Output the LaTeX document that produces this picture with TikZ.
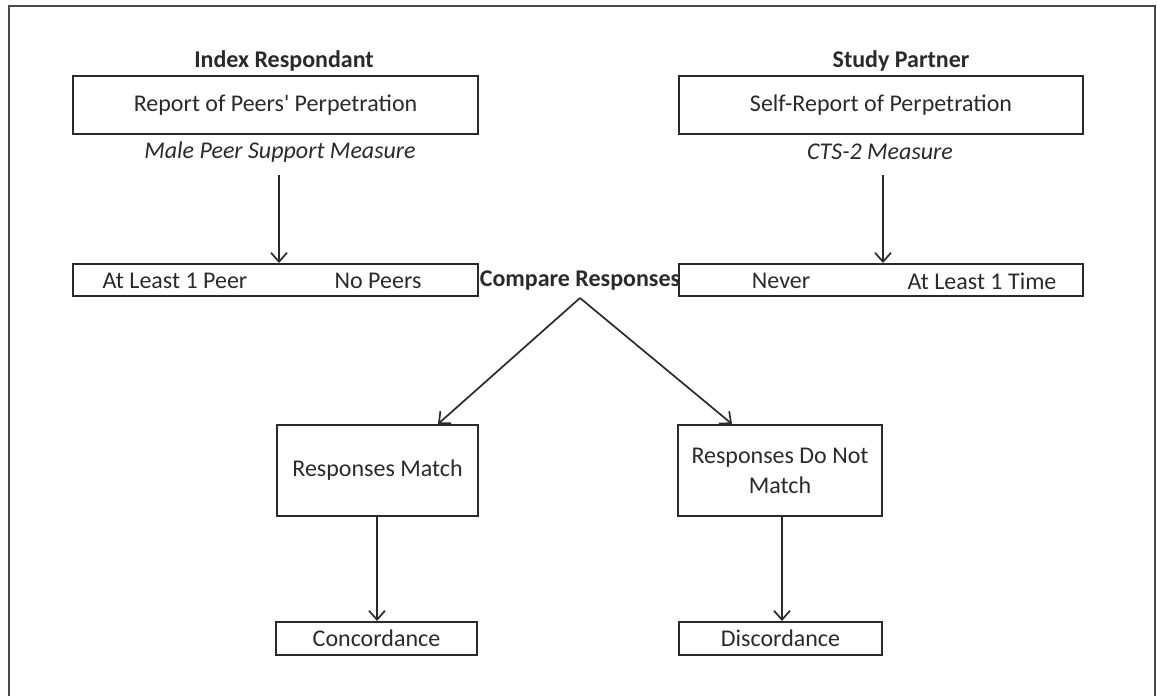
\documentclass[tikz,border=0pt]{standalone}
\usepackage{fontspec}
\setmainfont{Carlito}
\usetikzlibrary{arrows.meta}
\definecolor{ink}{HTML}{2A2A2A}
\begin{document}
\begin{tikzpicture}[x=1pt,y=-1pt,
  every node/.style={text=ink,font=\fontsize{24}{30}\selectfont},
  box/.style={draw=ink,line width=2pt,inner sep=0pt,align=center},
  arr/.style={draw=ink,line width=1.7pt,-{Straight Barb[length=9pt,width=16pt,line width=1.7pt]}},
  hdr/.style={font=\fontsize{24}{30}\selectfont\bfseries},
  meas/.style={font=\fontsize{24}{30}\selectfont\itshape}]
\useasboundingbox (0,0) rectangle (1157,696);
\draw[draw=ink!85,line width=2pt] (9,696) -- (9,6) -- (1155,6) -- (1155,696);
% headers
\node[hdr] (h1) at (284,61) {Index Respondant};
\node[hdr] (h2) at (901,61) {Study Partner};
% top boxes
\node[box,minimum width=405pt,minimum height=58pt] (b1) at (275.5,105) {Report of Peers\textquotesingle{} Perpetration};
\node[box,minimum width=404pt,minimum height=58pt] (b2) at (881,105) {Self-Report of Perpetration};
\node[meas] (m1) at (280,152) {Male Peer Support Measure};
\node[meas] (m2) at (880,152) {CTS-2 Measure};
% row boxes
\node[box,minimum width=405pt,minimum height=32pt] (r1) at (275.5,280) {};
\node[box,minimum width=404pt,minimum height=32pt] (r2) at (881,280) {};
\node (p1) at (175,281) {At Least 1 Peer};
\node (p2) at (378,281) {No Peers};
\node (q1) at (781,281) {Never};
\node (q2) at (982,281) {At Least 1 Time};
\node[hdr,inner sep=0pt] (cmp) at (580,281) {Compare Responses};
% arrows to row boxes
\coordinate (a1s) at (279,175);
\coordinate (a2s) at (883,175);
\draw[arr] (a1s) -- (a1s |- r1.north);
\draw[arr] (a2s) -- (a2s |- r2.north);
% match boxes
\node[box,minimum width=201pt,minimum height=91pt] (mt) at (377.5,470.5) {Responses Match};
\node[box,minimum width=204pt,minimum height=91pt] (nm) at (780,470.5) {Responses Do Not\\Match};
\coordinate (apex) at (580,298);
\coordinate (t1) at (438,400);
\coordinate (t2) at (732,400);
\draw[arr] (apex) -- (t1 |- mt.north);
\draw[arr] (apex) -- (t2 |- nm.north);
% final boxes
\node[box,minimum width=201pt,minimum height=33pt] (cc) at (376.5,638.5) {Concordance};
\node[box,minimum width=203pt,minimum height=33pt] (dc) at (780.5,638.5) {Discordance};
\coordinate (d1) at (377,500);
\coordinate (d2) at (782,500);
\draw[arr] (d1 |- mt.south) -- (d1 |- cc.north);
\draw[arr] (d2 |- nm.south) -- (d2 |- dc.north);
\end{tikzpicture}
\end{document}
